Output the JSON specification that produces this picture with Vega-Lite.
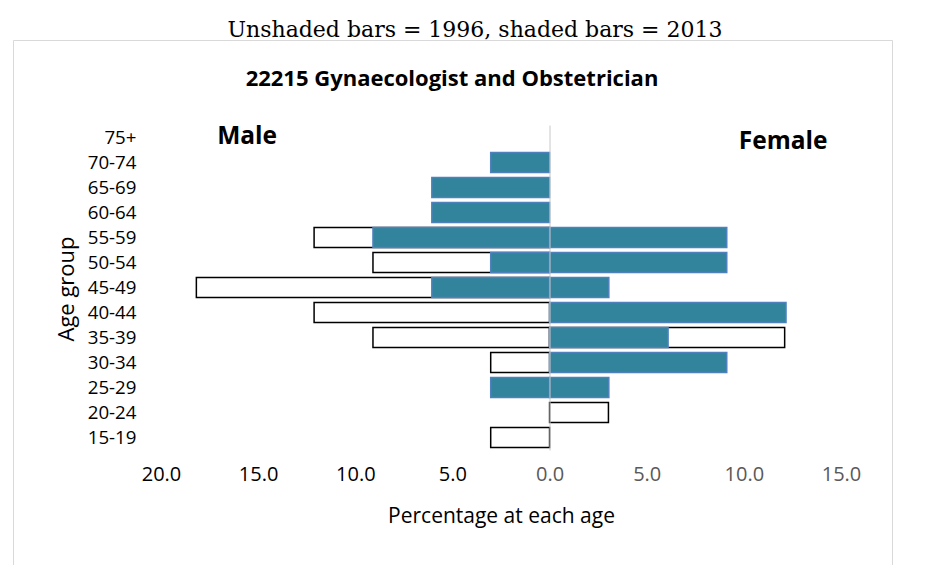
{
  "$schema": "https://vega.github.io/schema/vega-lite/v6.json",
  "width": 879,
  "height": 535,
  "autosize": {"type": "none"},
  "padding": {"left": 13, "top": 40, "right": 55, "bottom": 0},
  "background": "#FFFFFF",
  "config": {"view": {"stroke": "#D9D9D9", "strokeWidth": 1}, "font": "Open Sans"},
  "title": {
    "text": "Unshaded bars = 1996, shaded bars = 2013",
    "font": "DejaVu Serif",
    "fontSize": 22,
    "fontWeight": "normal",
    "color": "#000000",
    "anchor": "middle",
    "frame": "group",
    "dx": 22.5,
    "offset": -19,
    "baseline": "alphabetic"
  },
  "data": {
    "values": [
      {"age": "55-59", "sex": "Male", "year": 1996, "pct": -12.12},
      {"age": "50-54", "sex": "Male", "year": 1996, "pct": -9.09},
      {"age": "45-49", "sex": "Male", "year": 1996, "pct": -18.18},
      {"age": "40-44", "sex": "Male", "year": 1996, "pct": -12.12},
      {"age": "35-39", "sex": "Male", "year": 1996, "pct": -9.09},
      {"age": "30-34", "sex": "Male", "year": 1996, "pct": -3.03},
      {"age": "15-19", "sex": "Male", "year": 1996, "pct": -3.03},
      {"age": "35-39", "sex": "Female", "year": 1996, "pct": 12.1},
      {"age": "20-24", "sex": "Female", "year": 1996, "pct": 3.03},
      {"age": "70-74", "sex": "Male", "year": 2013, "pct": -3.03},
      {"age": "65-69", "sex": "Male", "year": 2013, "pct": -6.06},
      {"age": "60-64", "sex": "Male", "year": 2013, "pct": -6.06},
      {"age": "55-59", "sex": "Male", "year": 2013, "pct": -9.09},
      {"age": "50-54", "sex": "Male", "year": 2013, "pct": -3.03},
      {"age": "45-49", "sex": "Male", "year": 2013, "pct": -6.06},
      {"age": "25-29", "sex": "Male", "year": 2013, "pct": -3.03},
      {"age": "55-59", "sex": "Female", "year": 2013, "pct": 9.12},
      {"age": "50-54", "sex": "Female", "year": 2013, "pct": 9.12},
      {"age": "45-49", "sex": "Female", "year": 2013, "pct": 3.05},
      {"age": "40-44", "sex": "Female", "year": 2013, "pct": 12.17},
      {"age": "35-39", "sex": "Female", "year": 2013, "pct": 6.1},
      {"age": "30-34", "sex": "Female", "year": 2013, "pct": 9.12},
      {"age": "25-29", "sex": "Female", "year": 2013, "pct": 3.05}
    ]
  },
  "layer": [
    {
      "transform": [{"filter": "datum.year == 1996"}],
      "mark": {"type": "bar", "fill": "#FFFFFF", "stroke": "#000000", "strokeWidth": 1.5},
      "encoding": {
        "x": {
          "field": "pct",
          "type": "quantitative",
          "scale": {"domain": [-20, 15], "range": [148, 828], "nice": false, "zero": true},
          "axis": {
            "orient": "bottom",
            "offset": -125,
            "values": [-20, -15, -10, -5, 0, 5, 10, 15],
            "labelExpr": "format(abs(datum.value), '.1f')",
            "labelColor": {"condition": {"test": "datum.value < 0", "value": "#000000"}, "value": "#595959"},
            "labelFont": "Open Sans",
            "labelFontSize": 20,
            "labelPadding": 14,
            "labelFlush": false,
            "labelOverlap": false,
            "ticks": false,
            "tickSize": 0,
            "domain": false,
            "grid": false,
            "title": "Percentage at each age",
            "titleFont": "Open Sans",
            "titleFontSize": 21,
            "titleFontWeight": "normal",
            "titleColor": "#000000",
            "titleY": 72,
            "titleBaseline": "alphabetic"
          }
        },
        "y": {
          "field": "age",
          "type": "nominal",
          "scale": {
            "domain": ["75+", "70-74", "65-69", "60-64", "55-59", "50-54", "45-49", "40-44", "35-39", "30-34", "25-29", "20-24", "15-19"],
            "range": [85, 410],
            "paddingInner": 0.2,
            "paddingOuter": 0.1
          },
          "axis": {
            "orient": "left",
            "offset": -148,
            "labelFont": "Open Sans",
            "labelFontSize": 18.7,
            "labelColor": "#000000",
            "labelPadding": 25,
            "ticks": false,
            "tickSize": 0,
            "domain": false,
            "grid": false,
            "title": "Age group",
            "titleFont": "Open Sans",
            "titleFontSize": 22,
            "titleFontWeight": "normal",
            "titleColor": "#000000",
            "titleAngle": -90,
            "titleX": -95,
            "titleY": 248.5,
            "titleBaseline": "middle",
            "titleAlign": "center"
          }
        }
      }
    },
    {
      "transform": [{"filter": "datum.year == 2013"}],
      "mark": {"type": "bar", "fill": "#31849B", "stroke": "#4F81BD", "strokeWidth": 1.5},
      "encoding": {
        "x": {
          "field": "pct",
          "type": "quantitative",
          "axis": {
            "orient": "top",
            "labels": false,
            "ticks": false,
            "domain": false,
            "grid": false,
            "title": "22215 Gynaecologist and Obstetrician",
            "titleFont": "Open Sans",
            "titleFontSize": 22,
            "titleFontWeight": "bold",
            "titleColor": "#000000",
            "titleX": 438.5,
            "titleY": 45,
            "titleBaseline": "alphabetic",
            "titleAlign": "center"
          }
        },
        "y": {
          "field": "age",
          "type": "nominal",
          "axis": {
            "orient": "left",
            "offset": -536.5,
            "labels": false,
            "ticks": false,
            "domain": true,
            "domainColor": "#C8C8C8",
            "domainWidth": 1,
            "grid": false,
            "title": null,
            "zindex": 2
          }
        }
      }
    },
    {
      "data": {"values": [{"label": "Male"}]},
      "mark": {"type": "text", "font": "Open Sans", "fontSize": 24.5, "fontWeight": "bold", "color": "#000000", "align": "center", "baseline": "alphabetic", "dy": 6.5},
      "encoding": {
        "x": {"datum": -15.57, "type": "quantitative", "axis": null},
        "y": {"datum": "75+", "type": "nominal", "axis": null},
        "text": {"field": "label"}
      }
    },
    {
      "data": {"values": [{"label": "Female"}]},
      "mark": {"type": "text", "font": "Open Sans", "fontSize": 24.5, "fontWeight": "bold", "color": "#000000", "align": "center", "baseline": "alphabetic", "dy": 11.5},
      "encoding": {
        "x": {"datum": 12.02, "type": "quantitative", "axis": null},
        "y": {"datum": "75+", "type": "nominal", "axis": null},
        "text": {"field": "label"}
      }
    }
  ],
  "resolve": {"axis": {"x": "independent", "y": "independent"}}
}
